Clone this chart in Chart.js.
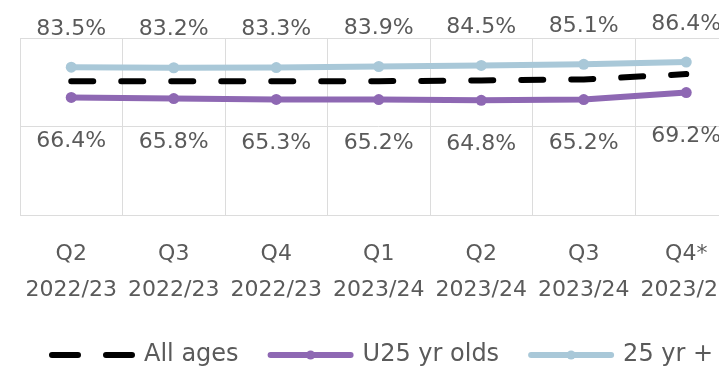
<!DOCTYPE html>
<html>
<head>
<meta charset="utf-8">
<script src="https://cdn.jsdelivr.net/npm/chart.js@4"></script>
<style>
html, body { margin: 0; padding: 0; background: #fff; overflow: hidden; }
#wrap { width: 800px; height: 378px; }
</style>
</head>
<body>
<div id="wrap"><canvas id="myChart" width="800" height="378"></canvas></div>
<script>
// quarters along the x axis (two lines each)
var quarters = [
    ['Q2', '2022/23'], ['Q3', '2022/23'], ['Q4', '2022/23'],
    ['Q1', '2023/24'], ['Q2', '2023/24'], ['Q3', '2023/24'], ['Q4*', '2023/24']
];
var allAges = [75.6, 75.5, 75.5, 75.6, 76.0, 76.6, 79.6];
var under25 = [66.4, 65.8, 65.3, 65.2, 64.8, 65.2, 69.2];
var over25 = [83.5, 83.2, 83.3, 83.9, 84.5, 85.1, 86.4];
var yMin = 0, yMax = 100, yStep = 50;

var textColor = '#5a5a5a';
var gridColor = '#dcdcdc';
var fontName = '"DejaVu Sans", sans-serif';

// percentage labels above / below the points
var valueLabels = {
    id: 'valueLabels',
    afterDatasetsDraw: function(chart) {
        var ctx = chart.ctx;
        ctx.save();
        ctx.font = '22px ' + fontName;
        ctx.fillStyle = textColor;
        ctx.textAlign = 'center';
        ctx.textBaseline = 'middle';
        chart.data.datasets.forEach(function(ds, i) {
            if (!ds.labelOffset) return;
            chart.getDatasetMeta(i).data.forEach(function(pt, j) {
                ctx.fillText(ds.data[j].toFixed(1) + '%', pt.x, pt.y + ds.labelOffset);
            });
        });
        ctx.restore();
    }
};

// little dot in the middle of the legend line for series with markers
var legendDots = {
    id: 'legendDots',
    afterDraw: function(chart) {
        var legend = chart.legend;
        if (!legend || !legend.legendHitBoxes) return;
        var ctx = chart.ctx;
        var w = legend.options.labels.pointStyleWidth;
        legend.legendItems.forEach(function(item, i) {
            var ds = chart.data.datasets[item.datasetIndex];
            if (!ds.pointRadius) return;
            var box = legend.legendHitBoxes[i];
            ctx.save();
            ctx.fillStyle = ds.borderColor;
            ctx.beginPath();
            ctx.arc(box.left + w / 2, box.top + box.height / 2, 4.5, 0, Math.PI * 2);
            ctx.fill();
            ctx.restore();
        });
    }
};

var ctx = document.getElementById('myChart');

var myChart = new Chart(ctx, {
    type: 'line',
    data: {
        labels: quarters,
        datasets: [{
            label: 'All ages',
            data: allAges,
            borderColor: '#000000',
            backgroundColor: '#000000',
            borderWidth: 6,
            borderDash: [22, 28],
            borderCapStyle: 'round',
            pointRadius: 0,
            tension: 0
        }, {
            label: 'U25 yr olds',
            data: under25,
            borderColor: '#8e68b3',
            backgroundColor: '#8e68b3',
            borderWidth: 6,
            pointRadius: 5.5,
            pointBorderWidth: 0,
            pointBackgroundColor: '#8e68b3',
            labelOffset: 44,
            tension: 0
        }, {
            label: '25 yr +',
            data: over25,
            borderColor: '#a9c8d8',
            backgroundColor: '#a9c8d8',
            borderWidth: 6,
            pointRadius: 5.5,
            pointBorderWidth: 0,
            pointBackgroundColor: '#a9c8d8',
            labelOffset: -38,
            tension: 0
        }]
    },
    options: {
        responsive: false,
        animation: false,
        devicePixelRatio: 1,
        layout: {
            padding: { left: 20, right: 22.5, top: 38, bottom: 1 }
        },
        scales: {
            x: {
                offset: true,
                grid: { offset: true, color: gridColor, drawTicks: false },
                border: { color: gridColor },
                ticks: {
                    padding: 22,
                    color: textColor,
                    maxRotation: 0,
                    autoSkip: false,
                    font: { family: fontName, size: 22, lineHeight: 1.6 }
                },
                afterFit: function(scale) { scale.height = 96; }
            },
            y: {
                position: 'right',
                min: yMin,
                max: yMax,
                grid: { color: gridColor, drawTicks: false },
                border: { color: gridColor },
                ticks: { display: false, stepSize: yStep },
                afterFit: function(scale) { scale.width = 40; }
            }
        },
        plugins: {
            tooltip: { enabled: false },
            legend: {
                position: 'bottom',
                align: 'start',
                labels: {
                    usePointStyle: true,
                    pointStyle: 'line',
                    pointStyleWidth: 80,
                    padding: 32,
                    color: textColor,
                    font: { family: fontName, size: 24 },
                    generateLabels: function(chart) {
                        var items = Chart.defaults.plugins.legend.labels.generateLabels(chart);
                        items.forEach(function(it) {
                            var ds = chart.data.datasets[it.datasetIndex];
                            it.lineWidth = ds.borderWidth;
                            it.strokeStyle = ds.borderColor;
                            it.fillStyle = ds.borderColor;
                            it.lineCap = 'round';
                            it.lineDash = ds.borderDash ? [26, 28] : [];
                        });
                        return items;
                    }
                }
            }
        }
    },
    plugins: [valueLabels, legendDots]
});
</script>
</body>
</html>
